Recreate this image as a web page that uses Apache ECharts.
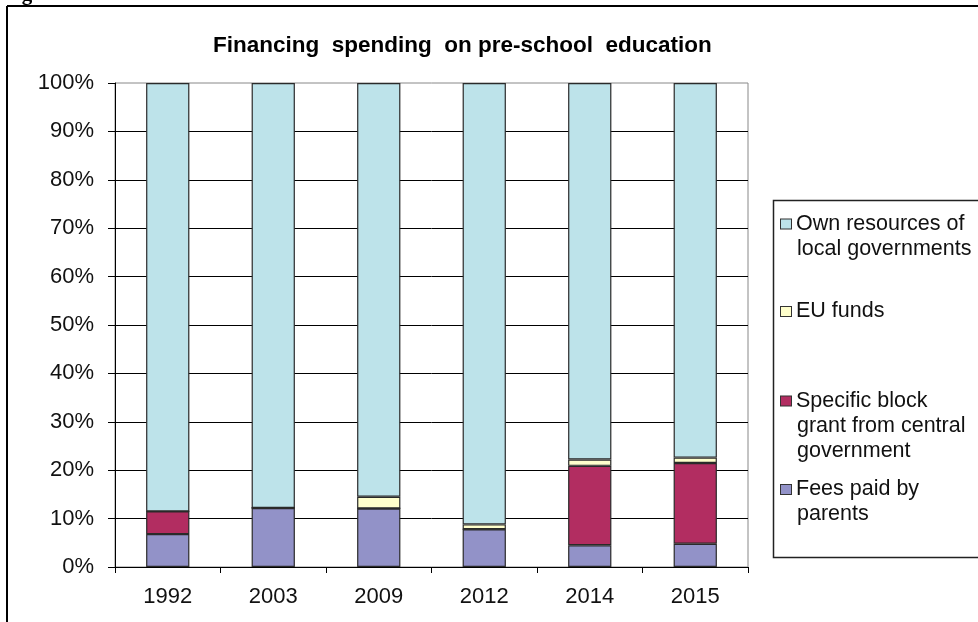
<!DOCTYPE html>
<html>
<head>
<meta charset="utf-8">
<script src="https://cdn.jsdelivr.net/npm/echarts@6/dist/echarts.min.js"></script>
<style>
  html, body { margin: 0; padding: 0; background: #fff; }
  #chart { width: 978px; height: 622px; }
</style>
</head>
<body>
<div id="chart"></div>
<script>
// Shares of pre-school education spending by source (percent of total)
const years = ['1992', '2003', '2009', '2012', '2014', '2015'];
const feesByParents = [6.8, 12.2, 12.1, 7.8, 4.5, 4.8];
const blockGrant = [4.7, 0, 0, 0, 16.4, 16.7];
const euFunds = [0, 0, 2.4, 1.0, 1.3, 1.1];
const ownResources = [88.5, 87.8, 85.5, 91.2, 77.8, 77.4];

const yMin = 0, yMax = 100, yStep = 10;

const seriesNames = {
  fees: 'Fees paid by parents',
  grant: 'Specific block grant from central government',
  eu: 'EU funds',
  own: 'Own resources of local governments'
};
// Legend text broken into lines
const legendLines = {
  own: ['Own resources of', 'local governments'],
  eu: ['EU funds'],
  grant: ['Specific block', 'grant from central', 'government'],
  fees: ['Fees paid by', 'parents']
};

const FONT = '"Liberation Sans", Arial, sans-serif';
const TEXT = '#111';
const LINE_H = 25;
const LEGEND_FONT = 21.5;

const colors = {
  own: '#BDE3EA',
  eu: '#FFFFCC',
  grant: '#B22D61',
  fees: '#9292C8'
};

function barSeries(key, values) {
  return {
    name: seriesNames[key],
    type: 'bar',
    stack: 'total',
    barWidth: '41%',
    data: values,
    itemStyle: { color: colors[key], borderColor: '#2a2a2a', borderWidth: 1.2 },
    emphasis: { disabled: true }
  };
}

// one legend block per entry; the swatch sits in the first text line
const legendFirstLineY = { own: 224, eu: 311.5, grant: 401, fees: 489.5 };
function legendBlock(key) {
  const lines = legendLines[key];
  const text = lines.map((line, i) =>
    (i === 0 ? '{sw|}{gap|}' : '{ind|}') + '{t|' + line + '}').join('\n');
  return {
    orient: 'vertical',
    left: 776,
    top: legendFirstLineY[key] - LINE_H / 2,
    padding: 0,
    icon: 'none',
    itemWidth: 0,
    itemHeight: 0,
    selectedMode: false,
    textStyle: {
      fontFamily: FONT, fontSize: LEGEND_FONT, lineHeight: LINE_H, color: TEXT,
      rich: {
        sw: { width: 10, height: 9, backgroundColor: colors[key], borderColor: '#333', borderWidth: 1 },
        gap: { width: 5 },
        ind: { width: 16 },
        t: { fontFamily: FONT, fontSize: LEGEND_FONT, lineHeight: LINE_H, color: TEXT }
      }
    },
    formatter: () => text,
    data: [seriesNames[key]]
  };
}

const chart = echarts.init(document.getElementById('chart'), null, { renderer: 'canvas' });
chart.setOption({
  backgroundColor: '#fff',
  animation: false,
  title: {
    text: 'Financing  spending  on pre-school  education',
    left: 213,
    top: 34,
    padding: 0,
    textStyle: { fontFamily: FONT, fontSize: 22.5, fontWeight: 'bold', color: '#000' }
  },
  graphic: [
    // page heading, cut by the top edge
    { type: 'text', left: 3, top: -15.5, silent: true,
      style: { text: 'Figure 3', font: 'bold 21px "Liberation Serif", serif', fill: '#000' } },
    // chart frame
    { type: 'line', silent: true, shape: { x1: 7, y1: 6, x2: 990, y2: 6 },
      style: { stroke: '#000', lineWidth: 2 } },
    { type: 'line', silent: true, shape: { x1: 7, y1: 6, x2: 7, y2: 640 },
      style: { stroke: '#000', lineWidth: 2 } },
    // legend frame
    { type: 'rect', silent: true, z: -1, shape: { x: 773.5, y: 200.5, width: 240, height: 357 },
      style: { fill: '#fff', stroke: '#222', lineWidth: 1.5 } }
  ],
  legend: ['own', 'eu', 'grant', 'fees'].map(legendBlock),
  grid: {
    left: 115, right: 230, top: 83, bottom: 55,
    show: true, borderColor: '#888', borderWidth: 1, backgroundColor: 'transparent'
  },
  xAxis: {
    type: 'category',
    data: years,
    boundaryGap: true,
    axisLine: { lineStyle: { color: '#000', width: 1 } },
    axisTick: { show: true, length: 6, interval: 0, lineStyle: { color: '#000' } },
    axisLabel: { fontFamily: FONT, fontSize: 22, color: TEXT, margin: 18.5 }
  },
  yAxis: {
    type: 'value',
    min: yMin, max: yMax, interval: yStep,
    axisLine: { show: true, lineStyle: { color: '#000', width: 1 } },
    axisTick: { show: true, length: 7, inside: false, lineStyle: { color: '#000' } },
    axisLabel: { fontFamily: FONT, fontSize: 22, color: TEXT, margin: 21, formatter: '{value}%' },
    splitLine: { show: true, showMinLine: false, showMaxLine: false, lineStyle: { color: '#000', width: 1 } }
  },
  series: [
    barSeries('fees', feesByParents),
    barSeries('grant', blockGrant),
    barSeries('eu', euFunds),
    barSeries('own', ownResources)
  ]
});
</script>
</body>
</html>
